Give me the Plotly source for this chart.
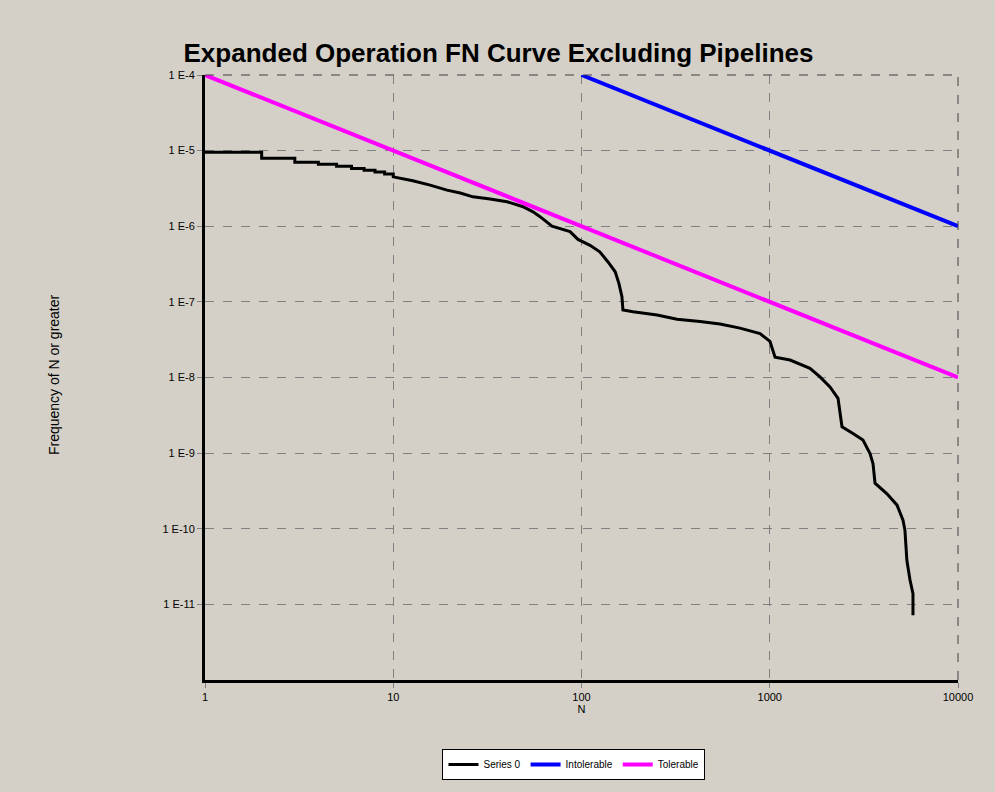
import plotly.graph_objects as go

# ---- data ----
series0_n = [1, 2, 2, 3, 3, 4, 4, 5, 5, 6, 6, 7, 7, 8, 8, 9, 9, 10, 10,
             12.7, 15.7, 19.3, 22.7, 26.5, 32.7, 40.2, 48.9, 55.3, 60.2,
             69.7, 86.9, 95.8, 111, 125, 138, 151, 158, 164, 166, 188, 252, 322, 426, 544, 695, 888,
             1003, 1040, 1067, 1282, 1636, 1849, 2089, 2305, 2420, 2768, 3127, 3409, 3535, 3625, 4196,
             4745, 5104, 5225, 5352, 5560, 5766, 5766]
series0_f = [9.5e-6, 9.5e-6, 7.9e-6, 7.9e-6, 7.0e-6, 7.0e-6, 6.6e-6, 6.6e-6, 6.2e-6, 6.2e-6, 5.8e-6,
             5.8e-6, 5.5e-6, 5.5e-6, 5.2e-6, 5.2e-6, 4.9e-6, 4.9e-6, 4.5e-6,
             4.0e-6, 3.5e-6, 3.0e-6, 2.75e-6, 2.45e-6, 2.29e-6, 2.11e-6, 1.81e-6, 1.55e-6, 1.34e-6,
             1.0e-6, 8.5e-7, 6.7e-7, 5.6e-7, 4.6e-7, 3.4e-7, 2.5e-7, 1.76e-7, 1.17e-7, 7.8e-8, 7.4e-8,
             6.7e-8, 5.9e-8, 5.5e-8, 5.1e-8, 4.5e-8, 3.8e-8, 3.0e-8, 2.3e-8, 1.85e-8, 1.70e-8, 1.32e-8,
             1.02e-8, 7.5e-9, 5.3e-9, 2.23e-9, 1.82e-9, 1.49e-9, 9.9e-10, 7.3e-10, 4.0e-10, 2.9e-10,
             2.05e-10, 1.3e-10, 9.6e-11, 3.8e-11, 2.1e-11, 1.39e-11, 7.2e-12]
intolerable_n = [100, 10000]
intolerable_f = [1e-4, 1e-6]
tolerable_n = [1, 10000]
tolerable_f = [1e-4, 1e-8]

x_tickvals = [1, 10, 100, 1000, 10000]
x_ticktext = ["1", "10", "100", "1000", "10000"]
y_tickvals = [1e-4, 1e-5, 1e-6, 1e-7, 1e-8, 1e-9, 1e-10, 1e-11]
y_ticktext = ["1 E-4", "1 E-5", "1 E-6", "1 E-7", "1 E-8", "1 E-9", "1 E-10", "1 E-11"]

BG = "#D4D0C8"
FONT = "Liberation Sans, Arial, sans-serif"

fig = go.Figure()
fig.add_trace(go.Scatter(x=series0_n, y=series0_f, mode="lines", name="Series 0",
                         line=dict(color="black", width=3)))
fig.add_trace(go.Scatter(x=intolerable_n, y=intolerable_f, mode="lines", name="Intolerable",
                         line=dict(color="#0000FF", width=4)))
fig.add_trace(go.Scatter(x=tolerable_n, y=tolerable_f, mode="lines", name="Tolerable",
                         line=dict(color="#FF00FF", width=4)))

fig.update_layout(
    width=995, height=792,
    paper_bgcolor=BG, plot_bgcolor=BG,
    margin=dict(l=205, r=37, t=75, b=112),
    font=dict(family=FONT, size=11, color="black"),
    title=dict(text="<b>Expanded Operation FN Curve Excluding Pipelines</b>",
               x=0.501, xanchor="center", y=0.933, yanchor="middle",
               font=dict(family=FONT, size=26, color="black")),
    showlegend=True,
    legend=dict(orientation="h", x=0.49, xanchor="center", y=-0.114, yanchor="top",
                bgcolor="white", bordercolor="black", borderwidth=1,
                font=dict(family=FONT, size=10, color="black"),
                itemwidth=30, tracegroupgap=0),
)
fig.update_xaxes(type="log", range=[0, 4], tickvals=x_tickvals, ticktext=x_ticktext,
                 showgrid=True, gridcolor="#808080", griddash="dash", gridwidth=1,
                 showline=True, linecolor="black", linewidth=3,
                 ticks="outside", ticklen=5, tickcolor="#808080",
                 tickfont=dict(family=FONT, size=11),
                 title=dict(text="N", font=dict(family=FONT, size=11), standoff=3),
                 zeroline=False)
fig.update_yaxes(type="log", range=[-12, -4], tickvals=y_tickvals, ticktext=y_ticktext,
                 showgrid=True, gridcolor="#808080", griddash="dash", gridwidth=1,
                 showline=True, linecolor="black", linewidth=3,
                 ticks="outside", ticklen=5, tickcolor="#808080",
                 tickfont=dict(family=FONT, size=11),
                 zeroline=False)
# top and right dashed frame
fig.add_shape(type="line", xref="paper", yref="paper", x0=0, x1=1, y0=1, y1=1,
              line=dict(color="#404040", width=1, dash="dash"))
fig.add_shape(type="line", xref="paper", yref="paper", x0=1, x1=1, y0=0, y1=1,
              line=dict(color="#404040", width=1, dash="dash"))
fig.add_annotation(text="Frequency of N or greater", xref="paper", yref="paper",
                   x=-0.213, y=0.505, textangle=-90, showarrow=False,
                   font=dict(family=FONT, size=14, color="black"))

fig.write_html("out.html")
